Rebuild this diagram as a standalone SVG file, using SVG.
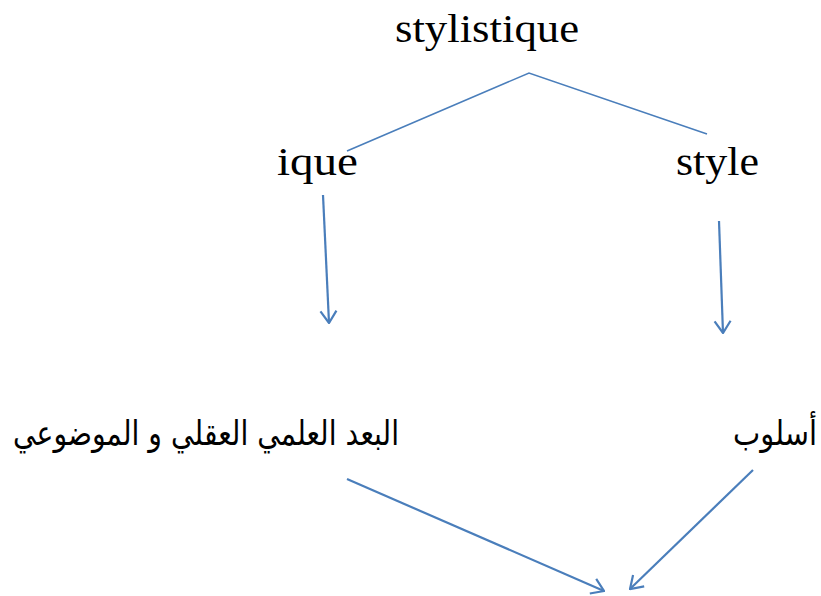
<svg xmlns="http://www.w3.org/2000/svg" width="821" height="596" viewBox="0 0 821 596">
<style>
.lat{font-family:"Liberation Serif","DejaVu Serif",serif;font-size:40px;fill:#000}
.ar{font-family:"DejaVu Sans","Noto Sans",sans-serif;font-size:34px;fill:#000}
.ln{fill:none;stroke:#4a7ebb;stroke-width:1.6}
.ar2{fill:none;stroke:#4a7ebb;stroke-width:2.2;marker-end:url(#ah)}
</style>
<defs>
<marker id="ah" viewBox="0 0 20 20" refX="19" refY="10" markerWidth="20" markerHeight="20" markerUnits="userSpaceOnUse" orient="auto">
<path d="M7,2 L19,10 L7,18" fill="none" stroke="#4a7ebb" stroke-width="2.2"/>
</marker>
</defs>
<rect width="821" height="596" fill="#fff"/>
<g id="n-stylistique"><text class="lat" x="395" y="42" textLength="184" lengthAdjust="spacingAndGlyphs">stylistique</text></g>
<g id="n-ique"><text class="lat" x="277" y="175" textLength="81" lengthAdjust="spacingAndGlyphs">ique</text></g>
<g id="n-style"><text class="lat" x="676" y="175" textLength="83" lengthAdjust="spacingAndGlyphs">style</text></g>
<g id="n-bod"><text class="ar" x="206" y="445" text-anchor="middle" direction="rtl" textLength="386" lengthAdjust="spacingAndGlyphs">البعد العلمي العقلي و الموضوعي</text></g>
<g id="n-uslub"><text class="ar" x="775" y="445" text-anchor="middle" direction="rtl" textLength="84" lengthAdjust="spacingAndGlyphs">أسلوب</text></g>
<g id="connectors">
<polyline class="ln" points="347,151 529,73 707,134"/>
<line class="ar2" x1="323" y1="195" x2="329" y2="323"/>
<line class="ar2" x1="719" y1="221" x2="723" y2="333"/>
<line class="ar2" x1="347" y1="479" x2="604" y2="591"/>
<line class="ar2" x1="753" y1="470" x2="630" y2="589"/>
</g>
</svg>
